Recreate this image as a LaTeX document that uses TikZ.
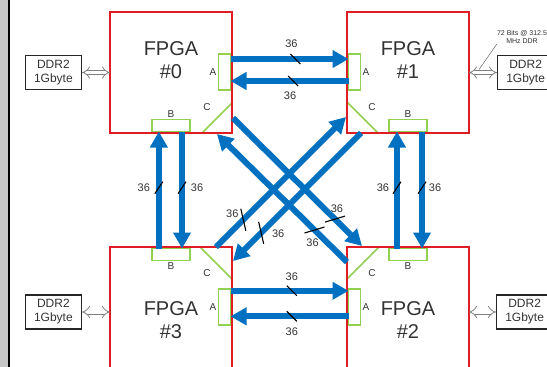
\documentclass[tikz,border=0pt]{standalone}
\usepackage{fontspec}
\setmainfont{Liberation Sans}
\usepackage{xcolor}
\usetikzlibrary{arrows.meta,positioning,calc,backgrounds}
\definecolor{fpgared}{RGB}{222,30,36}
\definecolor{portgreen}{RGB}{146,208,80}
\definecolor{busblue}{RGB}{0,112,192}
\definecolor{txtgray}{RGB}{50,50,50}

\begin{document}
\begin{tikzpicture}[x=1pt, y=-1pt,
  fpga/.style={draw=fpgared, line width=1.6pt, minimum width=122pt,
    minimum height=121pt, inner sep=0pt, outer sep=0pt},
  fpgatext/.style={font=\fontsize{20}{23}\selectfont, text=txtgray, align=center},
  port/.style={draw=portgreen, line width=1.5pt, fill=white, inner sep=0pt, outer sep=0pt},
  portA/.style={port, minimum width=12pt, minimum height=36pt},
  portB/.style={port, minimum width=38pt, minimum height=12pt},
  portC/.style={draw=portgreen, line width=1.6pt, line join=bevel},
  plab/.style={font=\fontsize{10}{12}\selectfont, text=txtgray, inner sep=2pt},
  ddr/.style={draw=black!85, line width=1.3pt, minimum width=56pt, minimum height=34pt,
    align=center, inner sep=0pt, font=\fontsize{12}{14}\selectfont, text=txtgray},
  memlink/.style={draw=black!50, double=white, double distance=3.4pt, line width=0.8pt,
    {Implies[scale=1.5]}-{Implies[scale=1.5]}},
  bus/.style={draw=busblue, line width=6pt, -{Triangle[length=16pt,width=17pt]}},
  tick/.style={draw=black, line width=1.1pt},
  buswd/.style={font=\fontsize{11}{13}\selectfont, text=txtgray, inner sep=0pt},
  note/.style={font=\fontsize{7}{8.5}\selectfont, text=txtgray, align=center, inner sep=0pt}
]
  \useasboundingbox (0,0) rectangle (547,367);
  % page edge
  \fill[gray!45] (0,0) rectangle (8,367);
  \draw[line width=2pt] (9,0) -- (9,367);

  % the four FPGAs
  \node[fpga] (f0) at (171,72.5) {};
  \node[fpga] (f1) at (408,72.5) {};
  \node[fpga] (f3) at (171,307.5) {};
  \node[fpga] (f2) at (408,307.5) {};
  \node[fpgatext] (t0) at ($(f0)+(0,-12)$) {FPGA\\\#0};
  \node[fpgatext] (t1) at ($(f1)+(0,-12)$) {FPGA\\\#1};
  \node[fpgatext] (t3) at ($(f3)+(0,12.5)$) {FPGA\\\#3};
  \node[fpgatext] (t2) at ($(f2)+(0,12.5)$) {FPGA\\\#2};

  % ports A and B
  \node[portA, anchor=east, label={[plab]left:A}]  (p0A) at ($(f0.east)+(-1.5,-0.5)$) {};
  \node[portA, anchor=west, label={[plab]right:A}] (p1A) at ($(f1.west)+(1.5,-0.5)$) {};
  \node[portA, anchor=east, label={[plab]left:A}]  (p3A) at ($(f3.east)+(-1.5,-0.5)$) {};
  \node[portA, anchor=west, label={[plab]right:A}] (p2A) at ($(f2.west)+(1.5,-0.5)$) {};
  \node[portB, anchor=south, label={[plab]above:B}] (p0B) at ($(f0.south)+(0,-1.5)$) {};
  \node[portB, anchor=south, label={[plab]above:B}] (p1B) at ($(f1.south)+(0,-1.5)$) {};
  \node[portB, anchor=north, label={[plab]below:B}] (p3B) at ($(f3.north)+(0,1.5)$) {};
  \node[portB, anchor=north, label={[plab]below:B}] (p2B) at ($(f2.north)+(0,1.5)$) {};

  % ports C sit in the inner corners
  \begin{scope}[on background layer]
    \draw[portC] (f0.south east) -- ++(0,-30) -- ++(-30,30) -- cycle;
    \draw[portC] (f1.south west) -- ++(0,-31) -- ++(31,31) -- cycle;
    \draw[portC] (f3.north east) -- ++(0,32) -- ++(-32,-32) -- cycle;
    \draw[portC] (f2.north west) -- ++(0,32) -- ++(32,-32) -- cycle;
  \end{scope}
  \node[plab] (c0) at ($(f0.south east)+(-25,-26)$) {C};
  \node[plab] (c1) at ($(f1.south west)+(25,-26)$) {C};
  \node[plab] (c3) at ($(f3.north east)+(-25,26)$) {C};
  \node[plab] (c2) at ($(f2.north west)+(25,26)$) {C};

  % memories
  \node[ddr, left=28pt of f0] (d0) {DDR2\\1Gbyte};
  \node[ddr, right=28pt of f1] (d1) {DDR2\\1Gbyte};
  \node[ddr, left=28pt of f3, yshift=-4.5pt] (d3) {DDR2\\1Gbyte};
  \node[ddr, right=27pt of f2, yshift=-4.5pt] (d2) {DDR2\\1Gbyte};
  \draw[memlink] (d0.east) -- (d0.east -| f0.west);
  \draw[memlink] (f1.east |- d1.west) -- coordinate[pos=.36, yshift=3pt] (lk) (d1.west);
  \draw[memlink] (d3.east) -- (d3.east -| f3.west);
  \draw[memlink] (f2.east |- d2.west) -- (d2.west);
  \node[note] (note) at (522,37) {72 Bits @ 312.5\\MHz DDR};
  \draw[black!60, line width=0.5pt] (lk) -- (note.south west);

  % A links
  \draw[bus] ($(p0A.north east)!.14!(p0A.south east)$) -- coordinate[pos=.55] (s1)
             ($(p1A.north west)!.14!(p1A.south west)$);
  \draw[bus] ($(p1A.north west)!.75!(p1A.south west)$) -- coordinate[pos=.47] (s2)
             ($(p0A.north east)!.75!(p0A.south east)$);
  \draw[bus] ($(p3A.north east)!.05!(p3A.south east)$) -- coordinate[pos=.52] (s3)
             ($(p2A.north west)!.05!(p2A.south west)$);
  \draw[bus] ($(p2A.north west)!.76!(p2A.south west)$) -- coordinate[pos=.48] (s4)
             ($(p3A.north east)!.76!(p3A.south east)$);

  % B links
  \draw[bus] ($(p3B.north west)!.18!(p3B.north east)$) -- coordinate[pos=.52] (s5)
             ($(p0B.south west)!.18!(p0B.south east)$);
  \draw[bus] ($(p0B.south west)!.79!(p0B.south east)$) -- coordinate[pos=.48] (s6)
             ($(p3B.north west)!.79!(p3B.north east)$);
  \draw[bus] ($(p2B.north west)!.21!(p2B.north east)$) -- coordinate[pos=.52] (s7)
             ($(p1B.south west)!.21!(p1B.south east)$);
  \draw[bus] ($(p1B.south west)!.87!(p1B.south east)$) -- coordinate[pos=.48] (s8)
             ($(p2B.north west)!.87!(p2B.north east)$);

  % C links cross over
  \draw[bus] ($(f0.south east)+(1,-15)$) -- coordinate[pos=.79] (s9)
             ($(f2.north west)+(15,-1)$);
  \draw[bus] ($(f2.north west)+(0,15)$) -- coordinate[pos=.25] (s10)
             ($(f0.south east)+(-15,1)$);
  \draw[bus] ($(f3.north east)+(-16,0)$) -- coordinate[pos=.21] (s11)
             ($(f1.south west)+(-1,-16)$);
  \draw[bus] ($(f1.south west)+(14,0)$) -- coordinate[pos=.78] (s12)
             ($(f3.north east)+(1,14)$);

  % bus widths
  \foreach \s/\a/\b/\lx/\ly in {s1/-5/-5/-4/-15, s2/-5/-5/-3/15, s3/-5/-5/0/-14,
      s4/-5/-5/0/15, s5/-4/6/-15/0, s6/-4/6/15/0, s7/-4/6/-14/0, s8/-4/6/13/0,
      s9/-10/3/2/-10, s10/-10/3/-2/13, s11/-2.5/-11/-11/-6, s12/-2.5/-11/17/1}{
    \draw[tick] ($(\s)+(\a,\b)$) -- ($(\s)-(\a,\b)$);
    \node[buswd] (w\s) at ($(\s)+(\lx,\ly)$) {36};
  }
\end{tikzpicture}
\end{document}
